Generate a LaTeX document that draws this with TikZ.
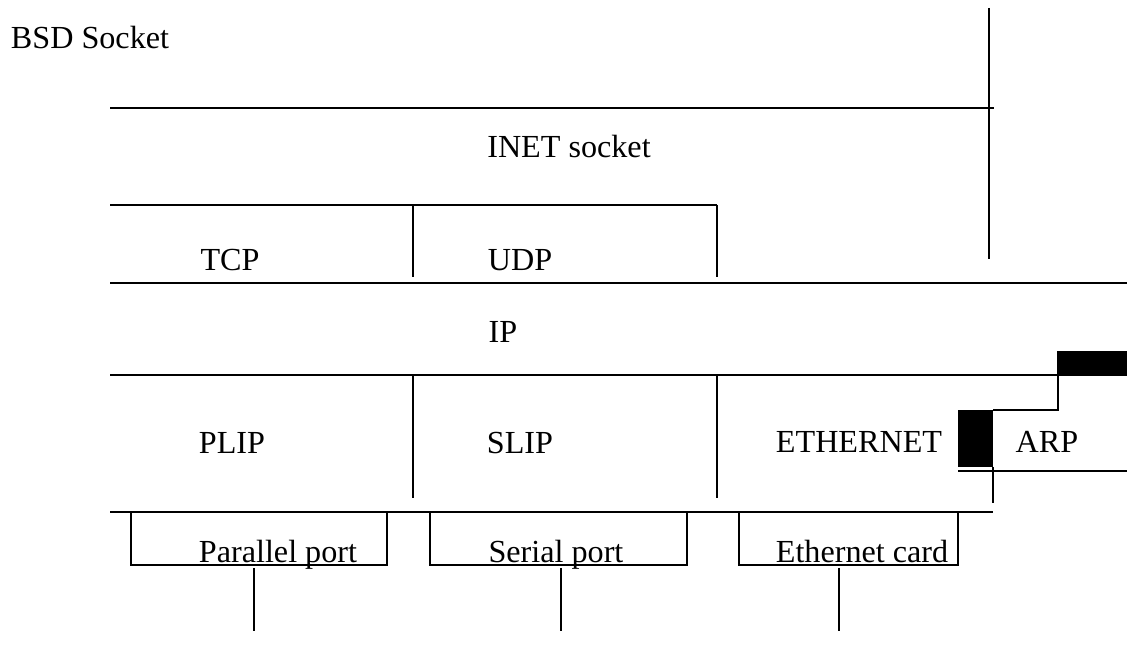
\documentclass[tikz,border=0pt]{standalone}
\usepackage{fontspec}
\setmainfont{Liberation Serif}
\usetikzlibrary{calc}

\begin{document}
\begin{tikzpicture}[x=0.02cm, y=-0.02cm, line width=1.1pt,
	capa/.style={font=\fontsize{18.3}{21}\selectfont, anchor=base, inner sep=0pt}]
\useasboundingbox (0,0) rectangle (1127,658);

%% Capas %%
\draw (989,8) -- ++(0,251);
\draw (110,108) -- (994,108);
\draw (110,205) -- (717,205);
\foreach \x in {413,717}
{
	\draw (\x,205) -- ++(0,72);
	\draw (\x,376) -- ++(0,122);
}
\draw (110,283) -- (1127,283);
\draw (110,375) -- (1057,375);
\draw (110,512) -- (993,512);

%% ARP %%
\fill (1057,351) rectangle (1127,376);
\draw (1058,376) -- ++(0,34) -- (993,410);
\fill (958,410) rectangle (993,467);
\draw (958,471) -- (1127,471);
\draw (993,467) -- ++(0,36);

%% Puertos %%
\foreach \a/\b/\c in {131/387/254, 430/687/561, 739/958/839}
{
	\draw (\a,512) rectangle (\b,565);
	\draw (\c,568) -- ++(0,63);
}

%% Textos %%
\node[capa, anchor=base west] (bsd) at (10,49) {BSD Socket};
\node[capa] (inet) at (569,158) {INET socket};
\node[capa] (tcp) at (230,271) {TCP};
\node[capa] (udp) at (520,271) {UDP};
\node[capa] (ip) at (503,343) {IP};
\node[capa] (plip) at (232,454) {PLIP};
\node[capa] (slip) at (520,454) {SLIP};
\node[capa] (ether) at (859,453) {ETHERNET};
\node[capa] (arp) at (1047,453) {ARP};
\node[capa] (par) at (278,563) {Parallel port};
\node[capa] (ser) at (556,563) {Serial port};
\node[capa] (card) at (862,563) {Ethernet card};
\end{tikzpicture}
\end{document}
